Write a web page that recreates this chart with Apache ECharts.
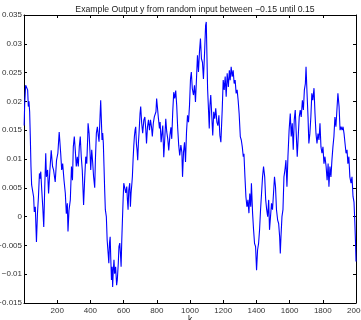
<!DOCTYPE html>
<html><head><meta charset="utf-8">
<script src="https://cdn.jsdelivr.net/npm/echarts@6/dist/echarts.min.js"></script>
<style>html,body{margin:0;padding:0;background:#fff}#c{width:361px;height:320px}</style>
</head><body><div id="c"></div>
<script>
const titleText = 'Example Output y from random input between \u22120.15 until 0.15';
const xName = 'k';
const kValues = [1,4,10,16,22,26,30,34,38,42,46,52,58,62,68,75,81,87,93,97,101,107,113,119,125,131,135,142,148,156,164,172,178,188,196,204,212,221,227,233,241,249,255,261,265,271,279,286,292,297,303,309,315,321,327,333,339,345,351,359,366,372,378,384,
386,392,398,402,408,414,419,426,430,436,442,448,452,458,462,466,470,474,478,482,486,490,496,501,507,511,515,519,523,527,531,534,538,542,546,552,558,562,568,572,577,581,585,589,593,597,601,607,613,619,623,627,631,637,641,645,650,653,657,661,665,669,673,677,681,685,689,693,699,703,709,715,722,728,734,738,744,750,756,762,768,773,779,785,
795,799,806,810,816,820,826,830,836,842,848,854,860,866,872,879,885,890,896,902,908,914,920,926,932,938,945,951,955,961,967,973,979,985,991,997,1003,1008,1014,1021,1027,1033,1039,1045,1051,1057,1063,1069,1075,1081,1088,1094,1098,1102,1106,1112,1116,1120,1125,1131,1137,1143,1149,1155,1162,1168,1174,1180,1186,
1194,1200,1206,1212,1218,1224,1231,1237,1242,1248,1254,1260,1266,1272,1278,1284,1290,1296,1303,1309,1315,1321,1325,1331,1337,1343,1349,1355,1360,1366,1370,1377,1383,1389,1395,1401,1407,1413,1419,1425,1431,1437,1443,1450,1456,1462,1468,1474,1479,1485,1491,1497,1503,1509,1515,1521,1528,1534,1540,1544,1548,1554,1560,1566,1572,1578,1584,1590,
1597,1604,1610,1616,1622,1628,1634,1640,1646,1652,1658,1664,1670,1677,1683,1689,1695,1699,1705,1711,1716,1722,1728,1734,1740,1747,1753,1759,1765,1771,1777,1783,1789,1795,1801,1807,1813,1820,1826,1832,1837,1843,1849,1855,1861,1867,1873,1879,1885,1891,1898,1904,1910,1916,1922,1928,1934,1940,1946,1951,1957,1963,1970,1976,1982,1988,1993,1997,2000];
const yValues = [0.0158,0.0195,0.0228,0.0231,0.022,0.0191,0.020,0.0182,0.0139,0.0087,0.0055,0.0058,0.0034,0.0008,0.0017,-0.0044,0.0005,0.0034,0.0075,0.0066,0.0078,0.0046,0.0017,-0.0018,0.0052,0.011,0.0069,0.0081,0.004,0.0081,0.0115,0.0087,0.0081,0.006,0.0098,0.011,0.0147,0.011,0.0081,0.0092,0.0063,0.004,0.0005,0.0023,-0.0026,0.0011,0.0029,0.0087,0.0063,0.0121,0.0139,0.0115,0.0087,0.0104,0.0087,0.0121,0.0139,0.0104,0.0081,0.002,0.0069,0.0104,0.0092,0.0139,
0.0162,0.0145,0.011,0.0081,0.0116,0.0093,0.007,0.005,0.0098,0.0145,0.0156,0.0139,0.013,0.0173,0.0202,0.0168,0.0133,0.0145,0.0127,0.0087,0.0046,0.0012,0.0,-0.0041,-0.0064,-0.0081,-0.0046,-0.0035,-0.0075,-0.011,-0.0087,-0.0122,-0.0093,-0.0075,-0.0099,-0.0087,-0.0119,-0.011,-0.0081,-0.0052,-0.0046,-0.0064,-0.0087,-0.0041,-0.0006,0.0029,0.0058,0.0061,0.0041,0.0052,0.0029,0.0012,0.0046,0.0058,0.0017,0.0041,0.0058,0.007,0.0098,0.0121,0.0139,0.015,0.0156,0.0127,0.0116,0.0098,0.0127,0.0145,0.0179,0.0191,0.0162,0.0145,0.0168,0.0173,0.015,0.0127,0.0156,0.0168,0.015,0.0168,0.0156,0.0139,0.0162,0.0173,
0.0182,0.0205,0.0205,0.017,0.0153,0.0164,0.0129,0.0141,0.0158,0.0103,0.0135,0.017,0.0147,0.0135,0.0115,0.0141,0.0155,0.0135,0.0182,0.0216,0.0205,0.0219,0.0193,0.0153,0.0124,0.0106,0.0124,0.0112,0.0069,0.0112,0.0129,0.0095,0.0147,0.0176,0.0164,0.0193,0.0239,0.0251,0.0222,0.0211,0.0228,0.0199,0.0239,0.028,0.0251,0.0286,0.0309,0.0274,0.0268,0.0239,0.0286,0.0332,0.0338,0.028,0.0222,0.0182,0.0153,0.0193,0.0211,0.0176,0.0141,0.0182,0.017,0.0188,0.0164,0.0158,0.0176,0.0141,0.0129,
0.0185,0.0237,0.022,0.0243,0.0208,0.0249,0.0225,0.0254,0.0237,0.026,0.0243,0.0254,0.0231,0.0237,0.0214,0.022,0.0202,0.0179,0.0139,0.0133,0.0121,0.0104,0.0109,0.0069,0.0034,0.0017,0.0029,0.0006,0.004,0.0017,0.0058,0.0006,-0.0023,-0.0047,-0.0052,-0.0093,-0.0058,-0.0047,-0.0023,0.0012,0.004,0.0069,0.0087,0.0069,0.0029,0.0012,0.0,0.0029,-0.0023,0.0,0.0023,0.0012,0.004,0.0069,0.0052,0.0012,-0.0006,-0.0012,-0.0035,-0.0064,-0.0035,0.0,0.0012,0.0069,0.0081,0.0098,0.0052,0.0104,
0.015,0.0179,0.0139,0.0162,0.0116,0.0168,0.0185,0.0144,0.0104,0.0139,0.0173,0.0185,0.0173,0.0202,0.0185,0.022,0.0231,0.026,0.0214,0.0173,0.0127,0.0144,0.0173,0.0214,0.0202,0.0223,0.0179,0.0144,0.0127,0.0144,0.0133,0.0162,0.0121,0.011,0.0121,0.0092,0.0104,0.0087,0.0063,0.0092,0.0052,0.0087,0.0069,0.0098,0.0121,0.0139,0.0173,0.0156,0.0185,0.0214,0.0191,0.015,0.0156,0.015,0.0156,0.0144,0.0127,0.011,0.0116,0.0092,0.0104,0.0069,0.0058,0.0069,0.0035,0.0025,-0.001,-0.0045,-0.0078];

const data = kValues.map((k, i) => [k, yValues[i]]);
const font = "'Liberation Sans', Arial, sans-serif";
const axLine = { show: true, onZero: false, lineStyle: { color: '#000', width: 1 } };
const tick = { show: true, inside: true, length: 3, lineStyle: { color: '#000', width: 1 } };
const fmtY = v => { const s = String(parseFloat(Number(v).toFixed(4))); return s.replace('-', '\u2212'); };

const chart = echarts.init(document.getElementById('c'), null, { renderer: 'canvas' });
chart.setOption({
  animation: false,
  backgroundColor: '#fff',
  title: { text: titleText, left: 190, textAlign: 'center', top: 0,
    textStyle: { fontSize: 8.7, fontWeight: 'normal', color: '#222', fontFamily: font } },
  grid: { left: 24, right: 5, top: 15, bottom: 17, containLabel: false, outerBoundsMode: 'none' },
  xAxis: [
    { type: 'value', min: 0, max: 2000, interval: 200, axisLine: axLine, axisTick: tick,
      splitLine: { show: false },
      axisLabel: { fontSize: 8, color: '#333', margin: 4, fontFamily: font, formatter: v => v === 0 ? '' : String(v) },
      name: xName, nameLocation: 'middle', nameGap: 12, nameMoveOverlap: false,
      nameTextStyle: { fontSize: 8.5, color: '#222', fontFamily: font, verticalAlign: 'top' } },
    { type: 'value', position: 'top', min: 0, max: 2000, interval: 200, axisLine: axLine, axisTick: tick,
      splitLine: { show: false }, axisLabel: { show: false } }
  ],
  yAxis: [
    { type: 'value', min: -0.015, max: 0.035, interval: 0.005, axisLine: axLine, axisTick: tick,
      splitLine: { show: false },
      axisLabel: { fontSize: 8, color: '#333', margin: 2, fontFamily: font, formatter: fmtY } },
    { type: 'value', position: 'right', min: -0.015, max: 0.035, interval: 0.005, axisLine: axLine, axisTick: tick,
      splitLine: { show: false }, axisLabel: { show: false } }
  ],
  series: [{
    type: 'line', xAxisIndex: 0, yAxisIndex: 0, data: data, showSymbol: false, symbol: 'none',
    lineStyle: { color: '#0000ff', width: 1.1 }, z: 3
  }]
});
</script>
</body></html>
